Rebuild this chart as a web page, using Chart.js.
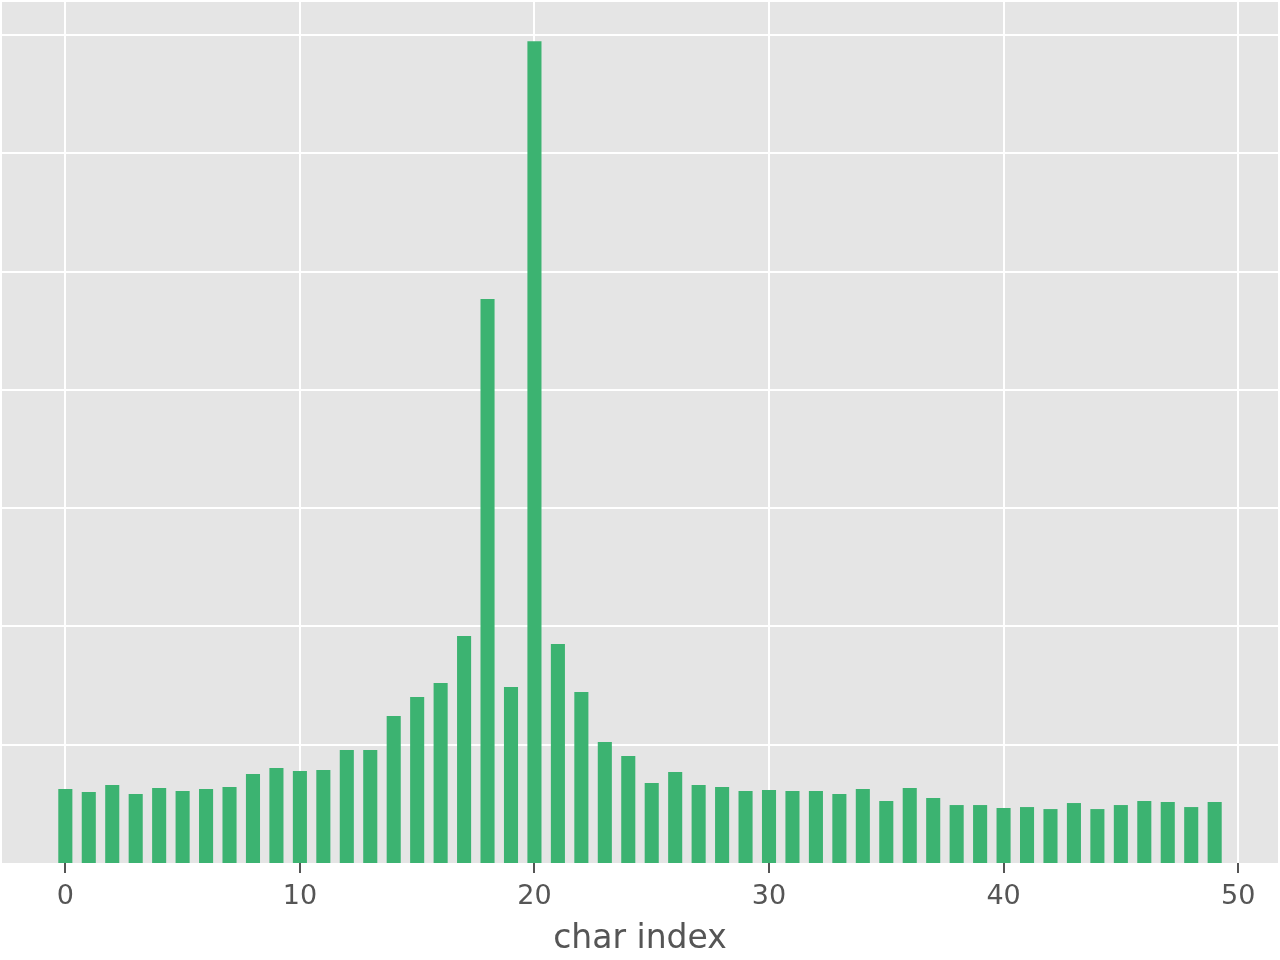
<!DOCTYPE html>
<html>
<head>
<meta charset="utf-8">
<script src="https://cdn.jsdelivr.net/npm/chart.js@4.4.0/dist/chart.umd.min.js"></script>
<style>
  html, body { margin: 0; padding: 0; background: #fff; }
  canvas { display: block; }
</style>
</head>
<body>
<canvas id="charChart" width="1280" height="960"></canvas>
<script>
// char positions along the x axis
const charIndex = [0,1,2,3,4,5,6,7,8,9,10,11,12,13,14,15,16,17,18,19,
                   20,21,22,23,24,25,26,27,28,29,30,31,32,33,34,35,36,37,38,39,
                   40,41,42,43,44,45,46,47,48,49];

// bar heights (y tick labels are hidden, unit = one grid step)
const charScore = [0.626,0.600,0.659,0.583,0.634,0.609,0.626,0.642,0.752,0.803,
                   0.778,0.786,0.955,0.955,1.243,1.403,1.522,1.919,4.768,1.488,
                   6.949,1.851,1.445,1.023,0.904,0.676,0.769,0.659,0.642,0.609,
                   0.617,0.609,0.609,0.583,0.626,0.524,0.634,0.549,0.490,0.490,
                   0.465,0.473,0.456,0.507,0.456,0.490,0.524,0.516,0.473,0.516];

// tick positions
const xTicks = [0, 10, 20, 30, 40, 50];
const yTicks = [1, 2, 3, 4, 5, 6, 7];

const xTitle = "char index";

// ggplot-ish grey panel behind the plot
const panelBg = {
    id: "panelBg",
    beforeDraw(chart) {
        const a = chart.chartArea;
        const ctx = chart.ctx;
        ctx.save();
        ctx.fillStyle = "#E5E5E5";
        ctx.fillRect(a.left, a.top, a.right - a.left, a.bottom - a.top);
        ctx.restore();
    }
};

const barData = charIndex.map((x, i) => ({ x: x, y: charScore[i] }));

new Chart(document.getElementById("charChart"), {
    type: "bar",
    data: {
        datasets: [{
            data: barData,
            backgroundColor: "#3CB371",
            borderWidth: 0,
            barPercentage: 0.6,
            categoryPercentage: 1.0
        }]
    },
    options: {
        responsive: false,
        animation: false,
        layout: { padding: { left: 2, right: 2, top: 2, bottom: 0 } },
        plugins: {
            legend: { display: false },
            tooltip: { enabled: false }
        },
        scales: {
            x: {
                type: "linear",
                min: -2.7,
                max: 51.7,
                offset: false,
                border: { display: false },
                afterBuildTicks: (axis) => {
                    axis.ticks = xTicks.map(v => ({ value: v }));
                },
                // pin the axis box so the plot bottom lands at y=863
                afterFit: (axis) => {
                    axis.height = 97;
                },
                grid: {
                    offset: false,
                    color: "#FFFFFF",
                    lineWidth: 2,
                    tickColor: "#555555",
                    tickWidth: 2,
                    tickLength: 10
                },
                ticks: {
                    autoSkip: false,
                    color: "#555555",
                    padding: 8,
                    maxRotation: 0,
                    font: { family: "DejaVu Sans", size: 27 }
                },
                title: {
                    display: true,
                    text: xTitle,
                    color: "#555555",
                    padding: { top: 3, bottom: 1 },
                    font: { family: "DejaVu Sans", size: 33 }
                }
            },
            y: {
                min: 0,
                max: 7.28,
                border: { display: false },
                afterBuildTicks: (axis) => {
                    axis.ticks = yTicks.map(v => ({ value: v }));
                },
                grid: {
                    color: "#FFFFFF",
                    lineWidth: 2,
                    drawTicks: false
                },
                ticks: {
                    display: false
                }
            }
        }
    },
    plugins: [panelBg]
});
</script>
</body>
</html>
